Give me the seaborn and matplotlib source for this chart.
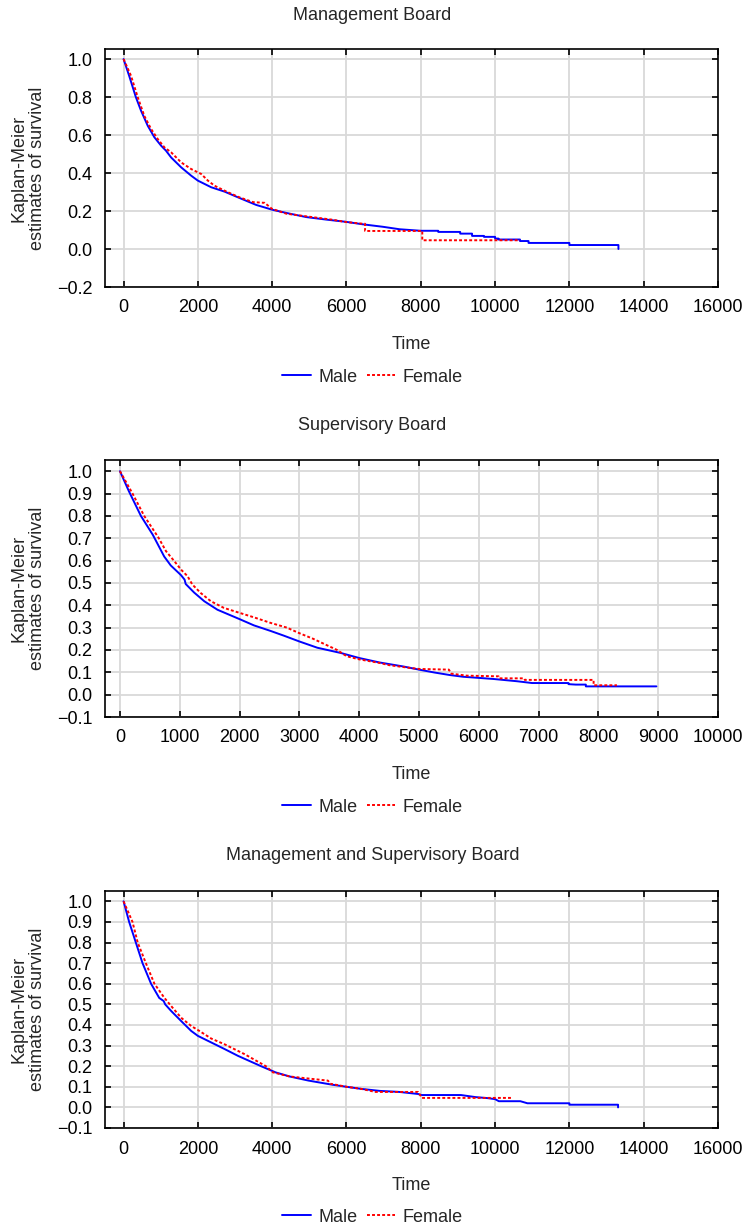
import numpy as np
import pandas as pd
import matplotlib
matplotlib.use("Agg")
import matplotlib.pyplot as plt
import seaborn as sns

sns.set_style("ticks")
plt.rcParams['font.family'] = ['Liberation Sans', 'DejaVu Sans']

# Kaplan-Meier kurvenpunkte, Stufen als doppelte Zeitwerte
# Management Board
mb_male_t = [0, 150, 330, 470, 650, 830, 1010, 1140, 1280, 1550, 1820, 2000, 2360, 2720, 3080,
             3570, 4000, 4380, 4920, 5450, 5990, 6440, 6980, 7430, 8000, 8470, 8470, 9060, 9060,
             9380, 9380, 9700, 9700, 10000, 10000, 10090, 10090, 10670, 10670, 10900, 10900,
             12000, 12000, 13320, 13320]
mb_male_s = [1.0, 0.912, 0.80, 0.728, 0.649, 0.588, 0.544, 0.518, 0.482, 0.43, 0.386, 0.36,
             0.325, 0.302, 0.272, 0.232, 0.207, 0.190, 0.168, 0.155, 0.143, 0.130, 0.117, 0.104,
             0.096, 0.096, 0.090, 0.090, 0.081, 0.081, 0.069, 0.069, 0.064, 0.064, 0.055, 0.055,
             0.050, 0.050, 0.042, 0.042, 0.032, 0.032, 0.021, 0.021, 0.0]
mb_fem_t = [0, 200, 380, 560, 740, 920, 1100, 1280, 1550, 1820, 2090, 2270, 2450, 2720, 3080,
            3480, 3800, 3990, 4380, 4920, 5630, 5990, 6440, 6500, 6500, 8040, 8040, 10670]
mb_fem_s = [1.0, 0.912, 0.80, 0.70, 0.632, 0.579, 0.535, 0.509, 0.456, 0.421, 0.395, 0.36,
            0.333, 0.307, 0.275, 0.247, 0.243, 0.212, 0.186, 0.172, 0.154, 0.142, 0.133,
            0.133, 0.095, 0.095, 0.046, 0.046]

# Supervisory Board
sb_male_t = [0, 150, 350, 550, 740, 850, 1020, 1080, 1100, 1240, 1410, 1630, 1850, 2000, 2240,
             2520, 2740, 3000, 3300, 3700, 4000, 4340, 4740, 5000, 5260, 5510, 5740, 6000,
             6250, 6640, 6890, 7500, 7500, 7620, 7790, 7790, 8970]
sb_male_s = [1.0, 0.91, 0.80, 0.715, 0.618, 0.578, 0.535, 0.515, 0.495, 0.457, 0.418, 0.38,
             0.355, 0.338, 0.31, 0.285, 0.264, 0.238, 0.210, 0.186, 0.164, 0.144, 0.126,
             0.112, 0.099, 0.088, 0.080, 0.075, 0.070, 0.060, 0.052, 0.052, 0.047, 0.045,
             0.045, 0.037, 0.037]
sb_fem_t = [0, 210, 405, 650, 770, 910, 1020, 1130, 1210, 1350, 1520, 1740, 2000, 2240, 2520,
            2790, 3000, 3230, 3470, 3630, 3790, 4000, 4340, 4500, 4840, 5000, 5500, 5540, 5800,
            6330, 6340, 6760, 6770, 7920, 7920, 8310]
sb_fem_s = [1.0, 0.90, 0.80, 0.70, 0.642, 0.597, 0.56, 0.53, 0.493, 0.455, 0.418, 0.388,
            0.366, 0.346, 0.321, 0.30, 0.275, 0.25, 0.22, 0.20, 0.172, 0.158, 0.142, 0.132,
            0.120, 0.115, 0.112, 0.094, 0.085, 0.082, 0.073, 0.073, 0.066, 0.066, 0.042, 0.042]

# Management and Supervisory Board
ms_male_t = [0, 150, 330, 510, 740, 960, 1080, 1120, 1280, 1550, 1820, 2000, 2360, 2720, 3080,
             3700, 4090, 4470, 4980, 5620, 6000, 6390, 6900, 7420, 7930, 8000, 9080, 9470, 9800,
             10000, 10100, 10680, 10870, 12000, 12000, 13310, 13310]
ms_male_s = [1.0, 0.90, 0.80, 0.70, 0.60, 0.531, 0.516, 0.50, 0.468, 0.419, 0.371, 0.347,
             0.315, 0.283, 0.25, 0.20, 0.17, 0.15, 0.13, 0.11, 0.10, 0.09, 0.08, 0.075, 0.065,
             0.06, 0.06, 0.05, 0.045, 0.04, 0.03, 0.03, 0.02, 0.02, 0.013, 0.013, 0.0]
ms_fem_t = [0, 240, 380, 600, 830, 1100, 1280, 1550, 1820, 2040, 2360, 2720, 3260, 3830, 4020,
            4470, 4980, 5500, 5560, 6000, 6390, 6780, 7930, 8030, 10430]
ms_fem_s = [1.0, 0.90, 0.80, 0.70, 0.60, 0.531, 0.492, 0.435, 0.395, 0.371, 0.334, 0.306,
            0.258, 0.20, 0.17, 0.15, 0.14, 0.13, 0.115, 0.10, 0.09, 0.075, 0.075, 0.046, 0.046]

titles = ['Management Board', 'Supervisory Board', 'Management and Supervisory Board']
y_ticks_1 = [-0.2, 0.0, 0.2, 0.4, 0.6, 0.8, 1.0]
y_ticks_2 = [-0.1, 0.0, 0.1, 0.2, 0.3, 0.4, 0.5, 0.6, 0.7, 0.8, 0.9, 1.0]
x_ticks_long = [0, 2000, 4000, 6000, 8000, 10000, 12000, 14000, 16000]
x_ticks_short = [0, 1000, 2000, 3000, 4000, 5000, 6000, 7000, 8000, 9000, 10000]


def make_df(mt, ms, ft, fs):
    a = pd.DataFrame({'Time': mt, 'Survival': ms, 'Sex': 'Male'})
    b = pd.DataFrame({'Time': ft, 'Survival': fs, 'Sex': 'Female'})
    return pd.concat([a, b], ignore_index=True)


panels = [
    dict(df=make_df(mb_male_t, mb_male_s, mb_fem_t, mb_fem_s), xt=x_ticks_long, yt=y_ticks_1,
         xlim=(-500, 16000), ylim=(-0.2, 1.053), top=49, bottom=287, title_y=15, leg_y=377),
    dict(df=make_df(sb_male_t, sb_male_s, sb_fem_t, sb_fem_s), xt=x_ticks_short, yt=y_ticks_2,
         xlim=(-250, 10000), ylim=(-0.1, 1.05), top=460, bottom=717, title_y=426, leg_y=807),
    dict(df=make_df(ms_male_t, ms_male_s, ms_fem_t, ms_fem_s), xt=x_ticks_long, yt=y_ticks_2,
         xlim=(-500, 16000), ylim=(-0.1, 1.05), top=891, bottom=1128, title_y=856, leg_y=1217),
]

W, H = 745, 1228
fs = 13
lw = 1.4
fig = plt.figure(figsize=(W / 100, H / 100), dpi=100)

for p, title in zip(panels, titles):
    ax = fig.add_axes([105 / W, 1 - p['bottom'] / H, 613 / W, (p['bottom'] - p['top']) / H])
    sns.lineplot(data=p['df'], x='Time', y='Survival', hue='Sex', style='Sex',
                 hue_order=['Male', 'Female'], style_order=['Male', 'Female'],
                 palette={'Male': '#0000ff', 'Female': '#ff0000'},
                 dashes={'Male': '', 'Female': (1.5, 1.1)},
                 sort=False, estimator=None, lw=lw, ax=ax, zorder=3)
    ax.set_xlim(*p['xlim'])
    ax.set_ylim(*p['ylim'])
    ax.set_xticks(p['xt'])
    ax.set_yticks(p['yt'])
    ax.set_yticklabels([f'{v:.1f}'.replace('-', '\u2212') for v in p['yt']])
    ax.grid(True, color='#d9d9d9', lw=1.3, zorder=0)
    ax.set_axisbelow(True)
    for s in ax.spines.values():
        s.set_linewidth(1.2)
        s.set_color('black')
        s.set_visible(True)
    ax.tick_params(direction='in', length=4, width=1.2, top=True, right=True,
                   labelsize=fs, pad=9, colors='black')
    ax.set_xlabel('Time', fontsize=fs, labelpad=14)
    ax.set_ylabel('Kaplan-Meier\nestimates of survival', fontsize=fs, linespacing=1.1)
    ax.yaxis.set_label_coords(-(105 - 46) / 613, 0.5)

    leg = ax.get_legend()
    handles = leg.legend_handles
    labels = [t.get_text() for t in leg.get_texts()]
    leg.remove()
    fl = fig.legend(handles, labels, loc='center', bbox_to_anchor=(0.5, 1 - p['leg_y'] / H),
                    ncol=2, frameon=False, fontsize=fs, handlelength=1.6,
                    handletextpad=0.4, columnspacing=0.5)
    for h in fl.get_lines():
        h.set_linewidth(lw)

    fig.text(0.5, 1 - p['title_y'] / H, title, ha='center', va='center', fontsize=fs)

fig.savefig('out.png', dpi=100)
